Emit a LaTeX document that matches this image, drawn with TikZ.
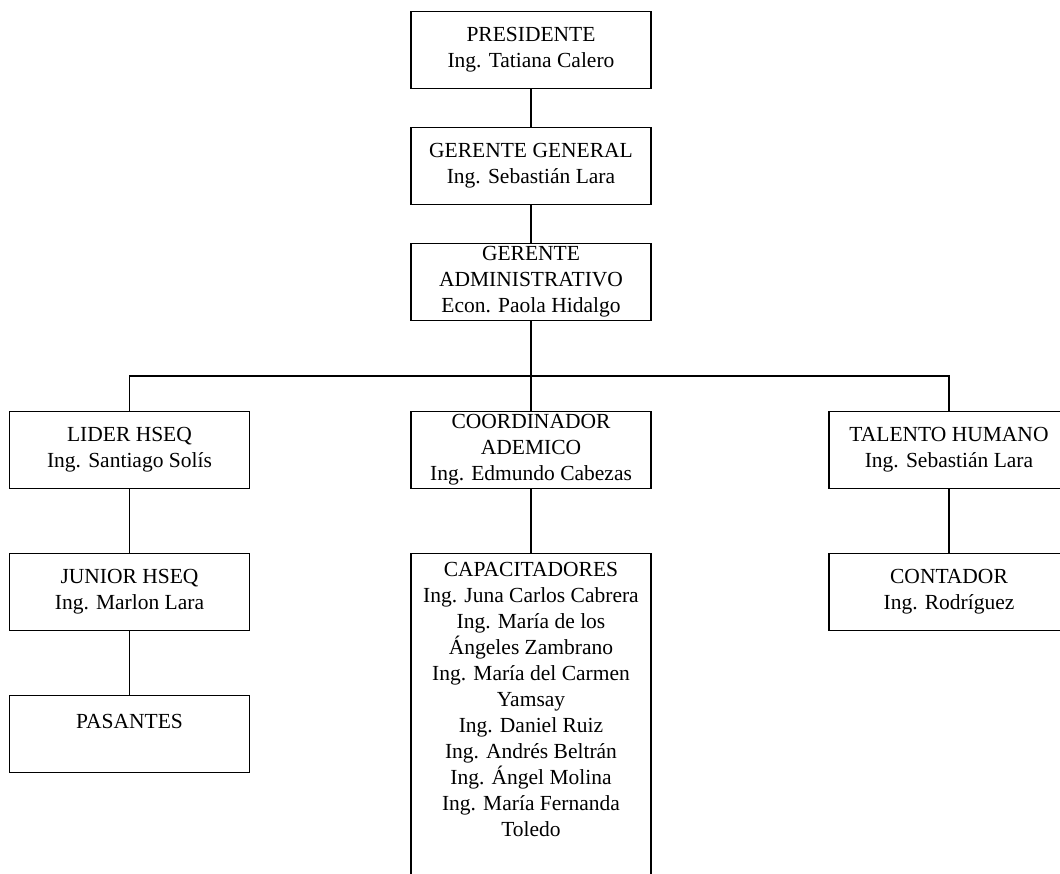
\documentclass[tikz,border=0pt]{standalone}
\usepackage{fontspec}
\setmainfont{Liberation Serif}
\usepackage{tikz}
\usetikzlibrary{positioning, calc}

\begin{document}
\begin{tikzpicture}[x=1pt, y=-1pt, line width=1.1pt,
    cargo/.style={draw, rectangle, anchor=north, align=center,
        minimum width=240pt, minimum height=77pt, inner xsep=2pt, inner ysep=3pt,
        font=\fontsize{21.5}{26}\selectfont}]

            \useasboundingbox (0,0) rectangle (1060,874);

            \node[cargo] (pres) at (531,11) {PRESIDENTE\\Ing. Tatiana Calero};
            \node[cargo] (gg) at (531,127) {GERENTE GENERAL\\Ing. Sebasti\'an Lara};
            \node[cargo] (ga) at (531,243) {GERENTE\\ADMINISTRATIVO\\Econ. Paola Hidalgo};

            \node[cargo] (lider) at (129.5,411) {LIDER HSEQ\\Ing. Santiago Sol\'is};
            \node[cargo] (coord) at (531,411) {COORDINADOR\\ADEMICO\\Ing. Edmundo Cabezas};
            \node[cargo] (talento) at (949,411) {TALENTO HUMANO\\Ing. Sebasti\'an Lara};

            \node[cargo] (junior) at (129.5,553) {JUNIOR HSEQ\\Ing. Marlon Lara};
            \node[cargo] (pasantes) at (129.5,695) {PASANTES\\~};
            \node[cargo, inner ysep=9pt] (capac) at (531,553) {CAPACITADORES\\Ing. Juna Carlos Cabrera\\Ing. Mar\'ia de los\\\'Angeles Zambrano\\Ing. Mar\'ia del Carmen\\Yamsay\\Ing. Daniel Ruiz\\Ing. Andr\'es Beltr\'an\\Ing. \'Angel Molina\\Ing. Mar\'ia Fernanda\\Toledo\\~\\~};
            \node[cargo] (contador) at (949,553) {CONTADOR\\Ing. Rodr\'iguez};

            \coordinate (bus) at (531,376);

            \draw (pres) -- (gg);
            \draw (gg) -- (ga);
            \draw (ga) -- (coord);
            \draw (lider.north) |- (bus) -| (talento.north);
            \draw (lider) -- (junior);
            \draw (junior) -- (pasantes);
            \draw (coord) -- (capac);
            \draw (talento) -- (contador);

        \end{tikzpicture}
\end{document}
